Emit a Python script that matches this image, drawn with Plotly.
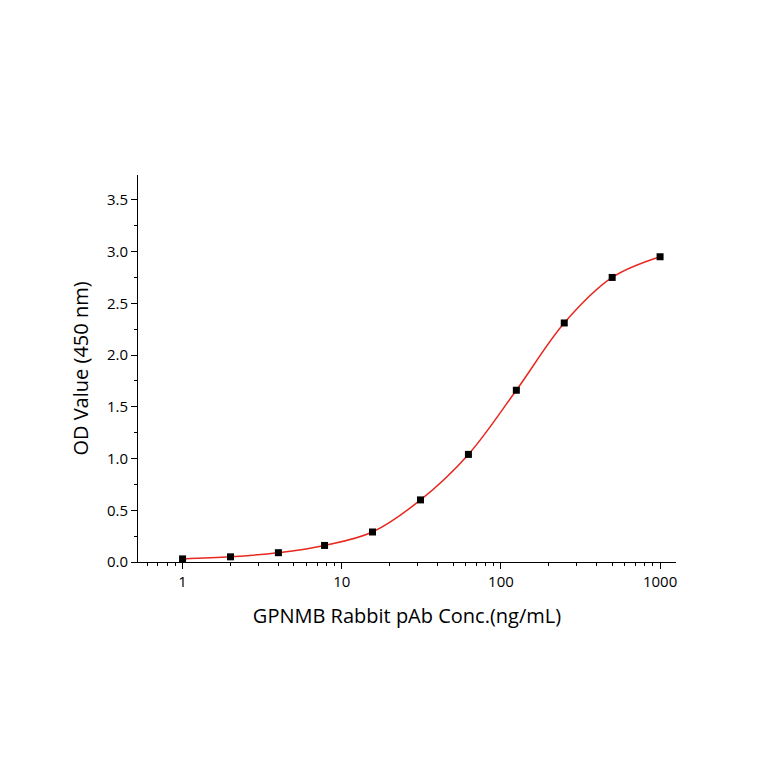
import plotly.graph_objects as go

conc = [1, 2, 4, 7.8, 15.6, 31.25, 62.5, 125, 250, 500, 1000]
od = [0.03, 0.05, 0.09, 0.16, 0.29, 0.60, 1.04, 1.66, 2.31, 2.75, 2.95]

fig = go.Figure()
fig.add_trace(go.Scatter(x=conc, y=od, mode='lines', line=dict(color='#e8271f', width=1.5, shape='spline', smoothing=1.0)))
fig.add_trace(go.Scatter(x=conc, y=od, mode='markers', marker=dict(symbol='square', size=7, color='black')))

axis_common = dict(showline=True, linecolor='black', linewidth=1, ticks='outside', ticklen=6,
                   tickcolor='black', showgrid=False, zeroline=False,
                   tickfont=dict(family='Open Sans', size=15, color='black'))
fig.update_xaxes(type='log', range=[-0.28, 3.10], tickvals=[1, 10, 100, 1000], ticktext=['1', '10', '100', '1000'],
                 minor=dict(ticks='outside', ticklen=3, tickcolor='black', dtick='D1', showgrid=False),
                 title=dict(text='GPNMB Rabbit pAb Conc.(ng/mL)', font=dict(family='Open Sans', size=20, color='black'), standoff=18),
                 **axis_common)
fig.update_yaxes(range=[0, 3.74], dtick=0.5, tickformat='.1f',
                 minor=dict(ticks='outside', ticklen=3, tickcolor='black', dtick=0.25),
                 title=dict(text='OD Value (450 nm)', font=dict(family='Open Sans', size=20, color='black'), standoff=12),
                 **axis_common)
fig.update_layout(width=764, height=764, showlegend=False, plot_bgcolor='white', paper_bgcolor='white',
                  margin=dict(l=130, r=96, t=167, b=210))
fig.write_html('out.html')
